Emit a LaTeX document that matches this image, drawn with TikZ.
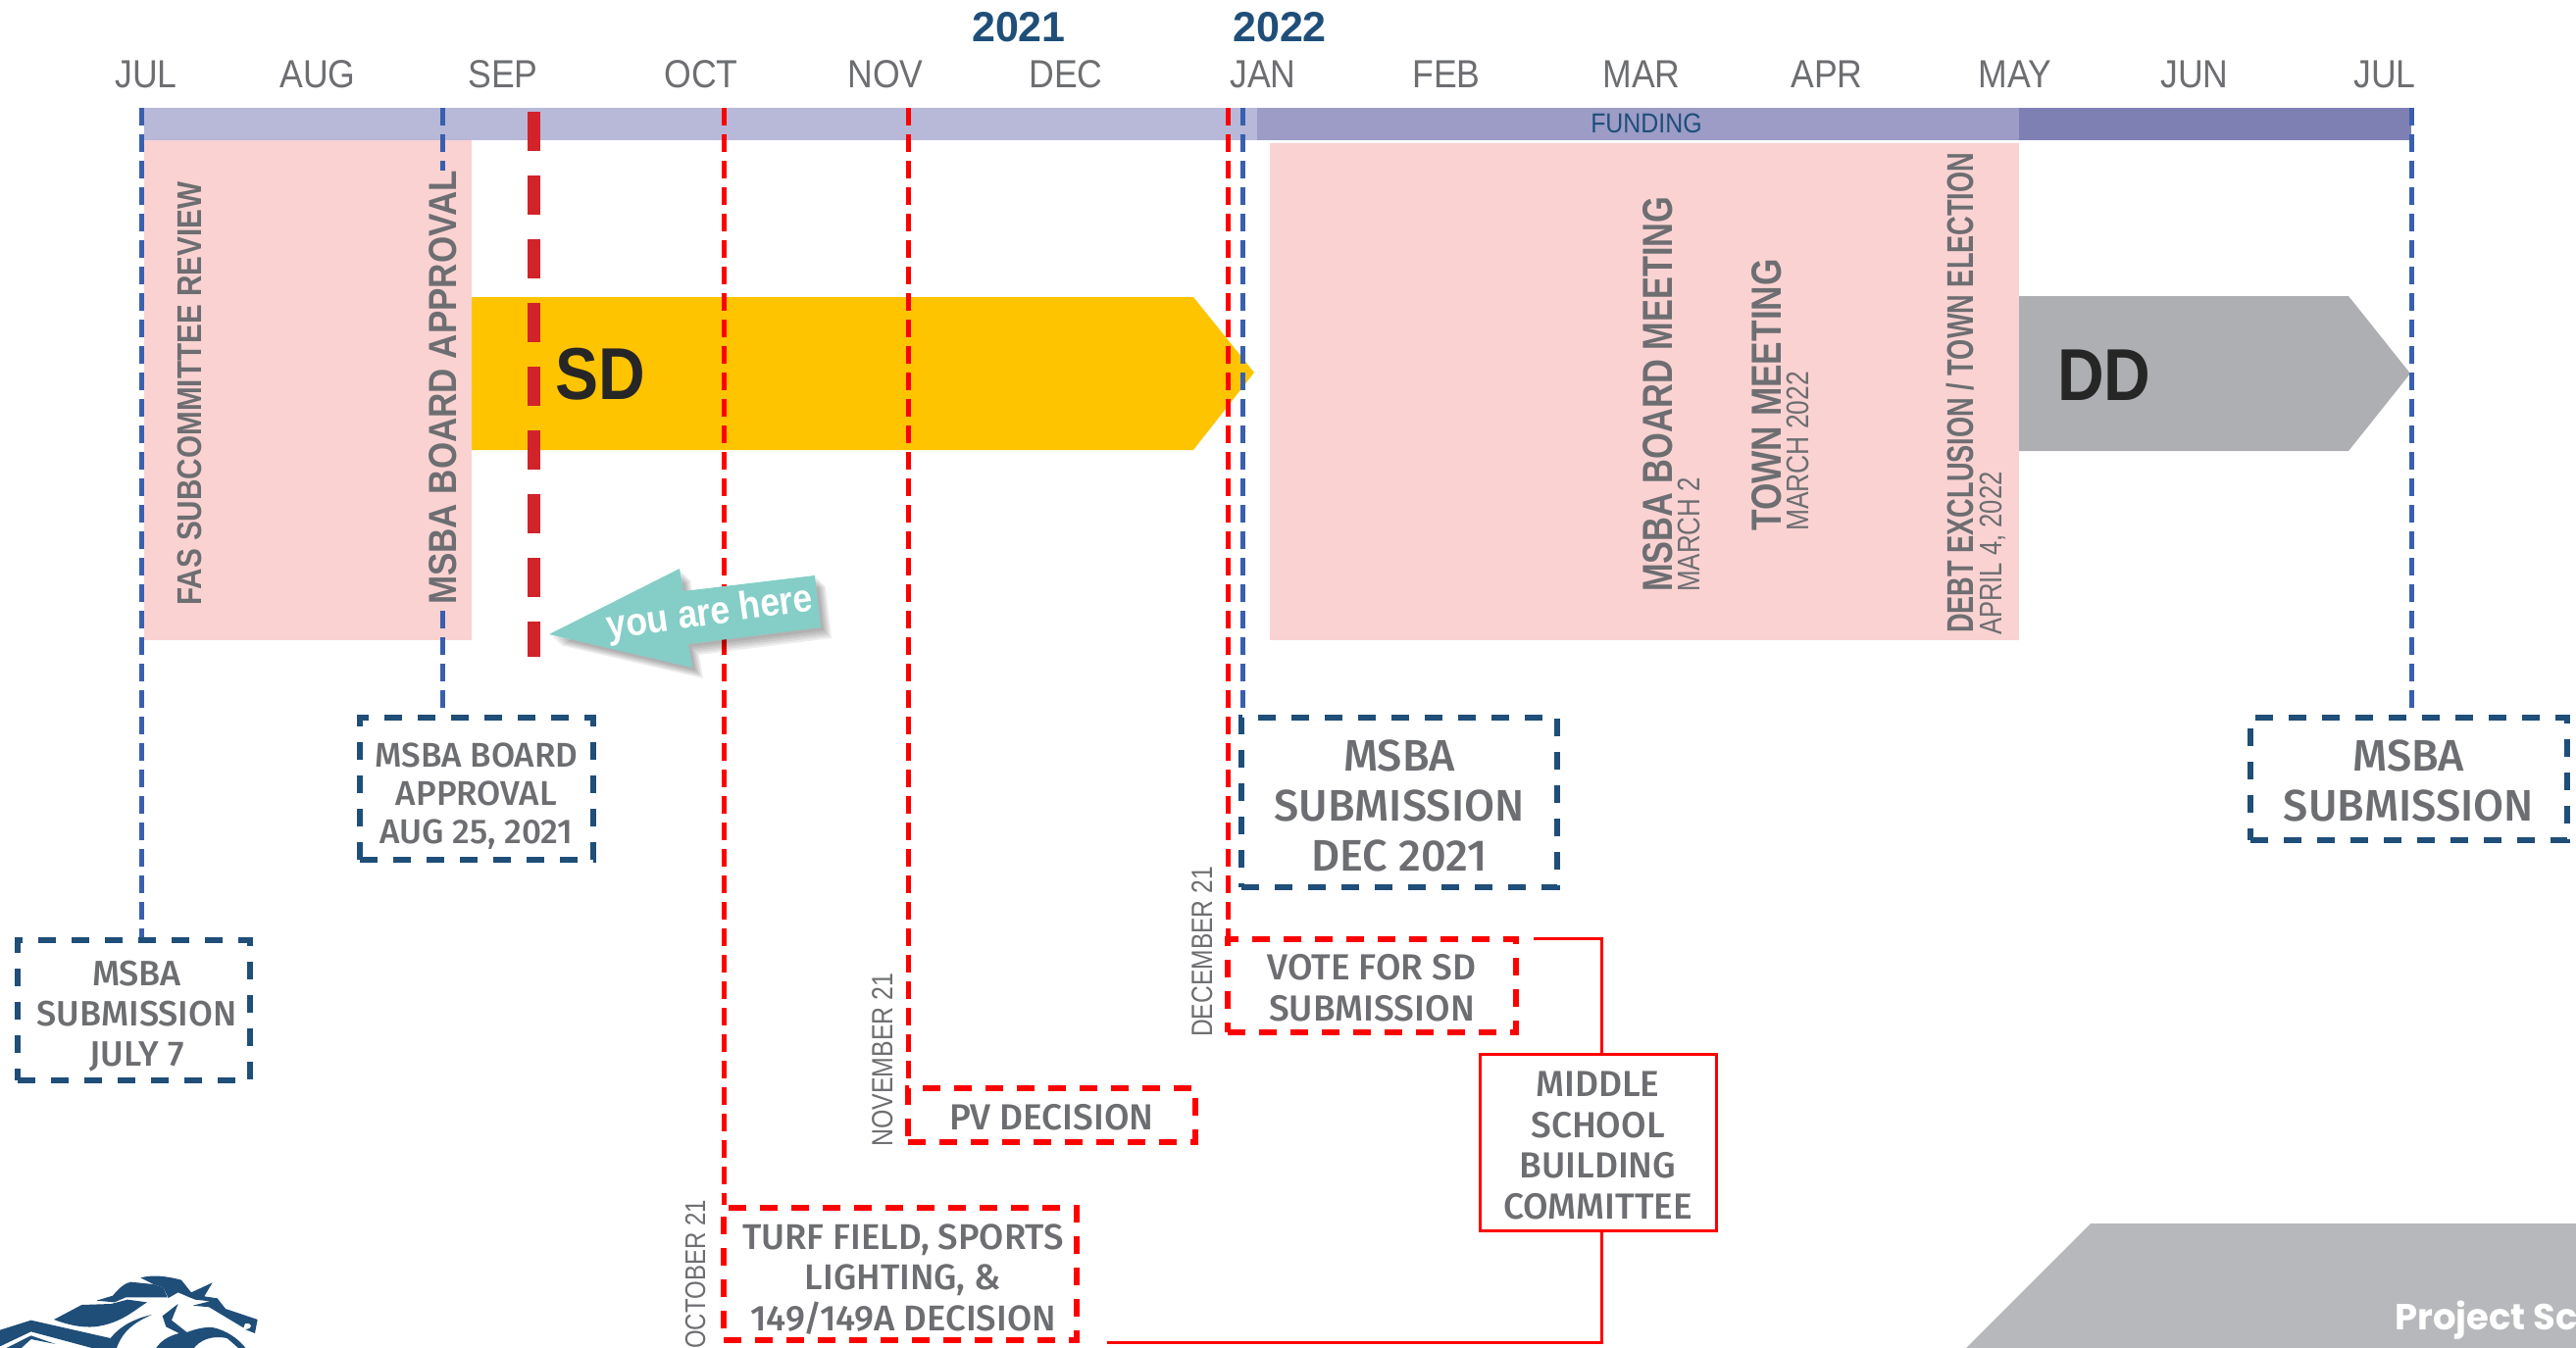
\documentclass[tikz,border=0pt]{standalone}
\usepackage{fontspec}
\setmainfont{Liberation Sans}
\newfontfamily\narrowfont[FakeStretch=.89]{Liberation Sans}
\newfontfamily\midfont{Fira Sans Medium}
\newfontfamily\projfont{Poppins}
\newcommand{\cond}[2]{\scalebox{#1}[1]{#2}}
\newcommand{\pad}{\hspace*{6pt}}
\newcommand{\lift}[1]{\rule{0pt}{#1}}
\definecolor{navy}{HTML}{1F4E79}
\definecolor{lineblue}{HTML}{3A5FAE}
\definecolor{slate}{HTML}{6D6E71}
\definecolor{pinkbg}{HTML}{FAD2D2}
\definecolor{bandA}{HTML}{B8B8D8}
\definecolor{bandB}{HTML}{9C9CC6}
\definecolor{bandC}{HTML}{7E80B4}
\definecolor{sdgold}{HTML}{FFC400}
\definecolor{ddgrey}{HTML}{AEAFB2}
\definecolor{tabgrey}{HTML}{B7B8BB}
\definecolor{hereteal}{HTML}{84CEC7}
\definecolor{nowred}{HTML}{D2232A}
\tikzset{
  mon/.style    ={anchor=base,inner sep=0pt,text=slate,font=\fontsize{40}{40}\selectfont\narrowfont},
  yr/.style     ={anchor=base,inner sep=0pt,text=navy,font=\fontsize{43}{43}\selectfont\bfseries},
  vlab/.style   ={rotate=90,anchor=base west,inner sep=0pt,text=slate,font=\fontsize{#1}{#1}\selectfont\bfseries},
  vdate/.style  ={rotate=90,anchor=base west,inner sep=0pt,text=slate,font=\fontsize{#1}{#1}\selectfont},
  phase/.style  ={anchor=base west,inner sep=0pt,text=black!85,font=\fontsize{75}{75}\selectfont\bfseries},
  bluedash/.style={draw=lineblue,line width=5pt,dash pattern=on 18pt off 9pt},
  reddash/.style ={draw=red,line width=5pt,dash pattern=on 18pt off 9pt},
  boxtext/.style ={align=center,inner sep=0pt,text=slate},
  navybox/.style ={boxtext,font=\fontsize{36}{41}\selectfont\midfont,draw=navy,line width=6pt,dash pattern=on 18pt off 16pt},
  redbox/.style  ={boxtext,font=\fontsize{37}{42}\selectfont\midfont,draw=red,line width=6pt,dash pattern=on 18pt off 14pt},
  msbc/.style    ={boxtext,font=\fontsize{37}{41.5}\selectfont\midfont,draw=red,line width=3pt},
  rline/.style   ={draw=red,line width=3pt}
}

\begin{document}
\begin{tikzpicture}[x=1pt,y=-1pt]
\useasboundingbox (0,0) rectangle (2627,1375);
\clip (0,0) rectangle (2627,1375);

% -------- funding band and pink blocks --------
\fill[bandA] (147,110) rectangle (1282,143);
\fill[bandB] (1282,110) rectangle (2059,143);
\fill[bandC] (2059,110) rectangle (2459,143);
\fill[pinkbg] (147,143) rectangle (481,653);
\fill[pinkbg] (1295,146) rectangle (2059,653);

% -------- phase arrows --------
\fill[sdgold] (481,303) -- (1217,303) -- (1279,380) -- (1217,459) -- (481,459) -- cycle;
\fill[ddgrey] (2059,302) -- (2395,302) -- (2458,381) -- (2395,460) -- (2059,460) -- cycle;

% -------- months --------
\foreach \m/\x in {JUL/149,AUG/324,SEP/513,OCT/715,NOV/903,DEC/1087,JAN/1288,FEB/1475,MAR/1674,APR/1863,MAY/2055,JUN/2238,JUL/2432}
  \node[mon] (m\m\x) at (\x,90) {\m};
\node[yr] (y21) at (1039,43) {2021};
\node[yr] (y22) at (1305,43) {2022};
\node[anchor=base,inner sep=0pt,text=navy,font=\fontsize{28}{28}\selectfont\narrowfont] (fund) at (1679,136) {FUNDING};

% -------- boxes --------
\node[navybox,minimum width=237pt,minimum height=143pt] (sJul) at (136.5,1030.5) {\lift{38pt}\pad MSBA\\\pad SUBMISSION\\\pad JULY 7};
\node[navybox,font=\fontsize{35}{39}\selectfont\midfont,minimum width=238pt,minimum height=145pt] (bAug) at (486,804.5) {\lift{40pt}MSBA BOARD\\APPROVAL\\AUG 25, 2021};
\node[navybox,font=\fontsize{45}{51}\selectfont\midfont,minimum width=322pt,minimum height=173pt] (sDec) at (1427,818.5) {\lift{38pt}MSBA\\SUBMISSION\\DEC 2021};
\node[navybox,font=\fontsize{45}{51}\selectfont\midfont,minimum width=323pt,minimum height=125pt] (sEnd) at (2456.5,794.5) {\lift{35pt}MSBA\\SUBMISSION};
\node[redbox,minimum width=294pt,minimum height=95pt] (vote) at (1399,1005.5) {\lift{30pt}VOTE FOR SD\\SUBMISSION};
\node[redbox,minimum width=293pt,minimum height=55pt] (pv) at (1072.5,1137.5) {\lift{30pt}PV DECISION};
\node[redbox,font=\fontsize{36.5}{41.5}\selectfont\midfont,minimum width=360pt,minimum height=135pt] (turf) at (918,1299.5) {\lift{36pt}\pad TURF FIELD, SPORTS\\\pad LIGHTING, \&\\\pad 149/149A DECISION};
\node[msbc,minimum width=241pt,minimum height=180pt] (msbc) at (1629.5,1165.5) {\lift{32pt}MIDDLE\\SCHOOL\\BUILDING\\COMMITTEE};

% -------- milestone lines --------
\coordinate (tJul) at (144,110);
\coordinate (tAug) at (451,110);
\coordinate (tOct) at (738,110);
\coordinate (tNov) at (926,110);
\coordinate (tDec) at (1252,110);
\coordinate (tSub) at (1267,110);
\coordinate (tEnd) at (2459,110);
\foreach \a/\b in {tJul/sJul,tAug/bAug,tSub/sDec,tEnd/sEnd} \draw[bluedash] (\a) -- (\a |- \b.north);
\foreach \a/\b in {tOct/turf,tNov/pv,tDec/vote} \draw[reddash] (\a) -- (\a |- \b.north);

% today marker
\coordinate (nowA) at (544,114);
\coordinate (nowB) at (544,670);
\draw[nowred,line width=13pt,dash pattern=on 40pt off 25pt] (nowA) -- (nowB);

% -------- committee wiring --------
\coordinate (voteEnd) at (1564,957);
\coordinate (turfEnd) at (1129,1369);
\draw[rline] (voteEnd) -| (msbc.north -| 1633,0);
\draw[rline] (msbc.south -| 1633,0) |- (turfEnd);

% -------- block labels --------
\node[vlab=35] (fas) at (205,618) {\cond{.848}{FAS SUBCOMMITTEE REVIEW}};
\node[vlab=40,fill=pinkbg] (appr) at (465,617) {\cond{.875}{MSBA BOARD APPROVAL}};
\node[vlab=43] (mtg) at (1705,604) {\cond{.80}{MSBA BOARD MEETING}};
\node[vdate=32] (mtgd) at (1733,604) {\cond{.81}{MARCH 2}};
\node[vlab=43] (town) at (1816,542) {\cond{.82}{TOWN MEETING}};
\node[vdate=32] (townd) at (1844,542) {\cond{.825}{MARCH 2022}};
\node[vlab=38] (debt) at (2012,646) {\cond{.715}{DEBT EXCLUSION / TOWN ELECTION}};
\node[vdate=32] (debtd) at (2041,648) {\cond{.80}{APRIL 4, 2022}};
\node[vdate=29] (octd) at (719,1376) {\cond{.83}{OCTOBER 21}};
\node[vdate=30] (novd) at (910,1170) {\cond{.83}{NOVEMBER 21}};
\node[vdate=30] (decd) at (1236,1058) {\cond{.82}{DECEMBER 21}};

\node[phase] (sd) at (566,407) {\cond{.88}{SD}};
\node[phase] (dd) at (2098,408) {\cond{.88}{DD}};

% -------- you are here --------
\def\herearrow{(560,647) -- (693,580) -- (697,603) -- (831,587) -- (837,640) -- (702,657) -- (706,681) -- cycle}
\foreach \s in {3,5,7,9,11}
  \fill[black,opacity=.07,shift={(\s,\s)}] \herearrow;
\fill[hereteal] \herearrow;
\node[rotate=8,inner sep=0pt,text=white,font=\fontsize{40}{40}\selectfont\narrowfont\bfseries] (here) at (724,627) {you are here};

% -------- corner tab --------
\fill[tabgrey] (2132,1248) -- (2627,1248) -- (2627,1375) -- (2005,1375) -- cycle;
\node[anchor=base west,inner sep=0pt,text=white,font=\fontsize{37}{37}\selectfont\projfont\bfseries] (proj) at (2442,1356) {Project Sc};

% -------- logo --------
\begin{scope}[shift={(0,1285)},x=.3333pt,y=-.3333pt]
\fill[navy] (430,55) .. controls (470,45) and (510,50) .. (555,62) -- (585,100) -- (650,70) -- (625,112) -- (665,118) -- (690,150) -- (788,183) -- (780,225) -- (750,213) .. controls (775,212) and (775,192) .. (750,195) -- (745,208) -- (640,145) -- (590,140) -- (642,127) -- (598,122) -- (580,115) -- (545,100) -- (515,117) -- (500,85) -- (470,75) -- cycle;
\fill[navy] (295,125) -- (345,110) .. controls (365,85) and (385,70) .. (400,68) -- (470,75) -- (500,85) -- (512,115) -- (440,115) -- (385,115) -- (350,130) -- cycle;
\fill[navy] (165,183) -- (250,138) -- (340,135) -- (390,122) -- (450,130) .. controls (410,155) and (370,195) .. (290,205) .. controls (250,208) and (210,200) .. (165,183) -- cycle;
\fill[navy] (0,215) -- (95,185) -- (338,240) .. controls (365,205) and (410,180) .. (465,168) .. controls (415,190) and (375,215) .. (355,275) -- (300,275) -- (95,220) -- (0,265) -- cycle;
\fill[navy] (20,270) -- (95,232) -- (170,258) -- (95,243) -- (60,275) -- cycle;
\fill[navy] (545,135) -- (497,172) -- (508,205) -- (548,225) .. controls (510,235) and (490,250) .. (475,275) -- (590,275) .. controls (610,245) and (650,230) .. (695,240) -- (735,275) -- (755,275) .. controls (730,240) and (690,215) .. (650,207) .. controls (620,205) and (590,215) .. (572,222) -- (525,185) -- cycle;
\end{scope}
\end{tikzpicture}
\end{document}
